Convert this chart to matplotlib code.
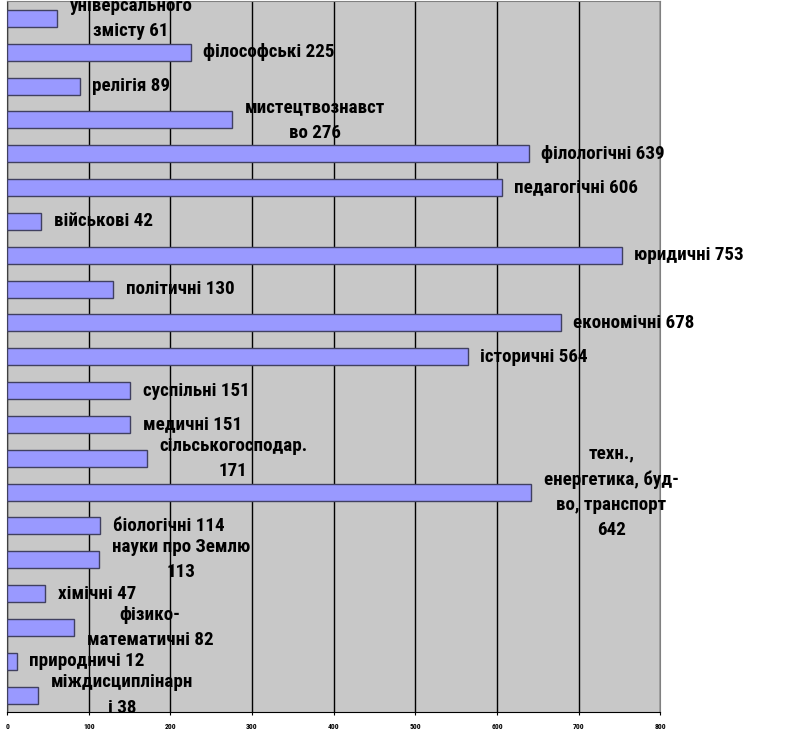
import matplotlib.pyplot as plt
from matplotlib import font_manager
from matplotlib.ft2font import FT2Font

# category names (with the wrapping as in the picture) and counts, top to bottom
names = ['універсального\nзмісту ', 'філософські ', 'релігія ', 'мистецтвознавст\nво ',
         'філологічні ', 'педагогічні ', 'військові ', 'юридичні ', 'політичні ',
         'економічні ', 'історичні ', 'суспільні ', 'медичні ', 'сільськогосподар.\n',
         'техн.,\nенергетика, буд-\nво, транспорт\n', 'біологічні ', 'науки про Землю\n',
         'хімічні ', 'фізико-\nматематичні ', 'природничі ', 'міждисциплінарн\nі ']
values = [61, 225, 89, 276, 639, 606, 42, 753, 130, 678, 564, 151, 151, 171,
          642, 114, 113, 47, 82, 12, 38]
xticks = [0, 100, 200, 300, 400, 500, 600, 700, 800]

DPI = 100


def has_cyrillic(fn):
    try:
        cmap = FT2Font(fn).get_charmap()
    except Exception:
        return False
    return all(ord(c) in cmap for c in 'фіЗмлюї')


def pick_narrow_bold():
    # a narrow / condensed bold face that also has Cyrillic letters
    files = [f.fname for f in font_manager.fontManager.ttflist]
    prefs = ['robotocondensed-bold', 'opensans_condensed-bold', 'opensanscondensed-bold',
             'liberationsansnarrow-bold', 'narrow-bold', 'narrowbold',
             'condensed-bold', 'condensedbold']
    for key in prefs:
        for fn in files:
            low = fn.lower().replace(' ', '')
            if key in low and 'italic' not in low and 'oblique' not in low and has_cyrillic(fn):
                return fn
    return None


narrow = pick_narrow_bold()
if narrow:
    base = font_manager.FontProperties(fname=narrow, size=10)
else:
    base = font_manager.FontProperties(family='Liberation Sans', weight='bold', size=10)

fig = plt.figure(figsize=(7.87, 7.34), dpi=DPI)
renderer = fig.canvas.get_renderer()

# size the label font so that "філософські 225" is about 132 px wide, like the reference
w10, _, _ = renderer.get_text_width_height_descent('філософські 225', base, ismath=False)
label_font = base.copy()
label_font.set_size(min(15.0, 10 * 132 / w10))
# and the line step of wrapped labels about 24 px (Cyrillic lines sit a bit taller than "lp")
_, lp_h, lp_d = renderer.get_text_width_height_descent('lp', label_font, ismath=False)
spacing = 21.3 / (lp_h - lp_d)

tick_font = base.copy()
tick_font.set_size(5.5)

ax = fig.add_axes([0.009, 0.030, 0.830, 0.968])
ax.set_facecolor('#c8c8c8')

pos = list(range(len(values)))
ax.barh(pos, values, height=0.5, color='#9999ff', edgecolor='#404060', linewidth=1, zorder=3)

for p, n, v in zip(pos, names, values):
    ax.annotate(f'{n}{v}', (v, p), xytext=(9, 0), textcoords='offset points',
                ha='left', va='center', multialignment='center',
                fontproperties=label_font, linespacing=spacing, zorder=4,
                annotation_clip=False)

ax.set_ylim(len(values) - 0.5, -0.5)
ax.set_xlim(0, 800)
ax.set_xticks(xticks)
ax.set_xticklabels([str(t) for t in xticks], fontproperties=tick_font)
ax.set_yticks([])
ax.tick_params(axis='x', length=2, pad=6)
ax.grid(axis='x', color='black', linewidth=1, zorder=1)
for side in ['top', 'right']:
    ax.spines[side].set_color('#808080')
ax.spines['left'].set_color('#404040')
ax.spines['bottom'].set_color('black')

fig.savefig('out.png', dpi=DPI)
